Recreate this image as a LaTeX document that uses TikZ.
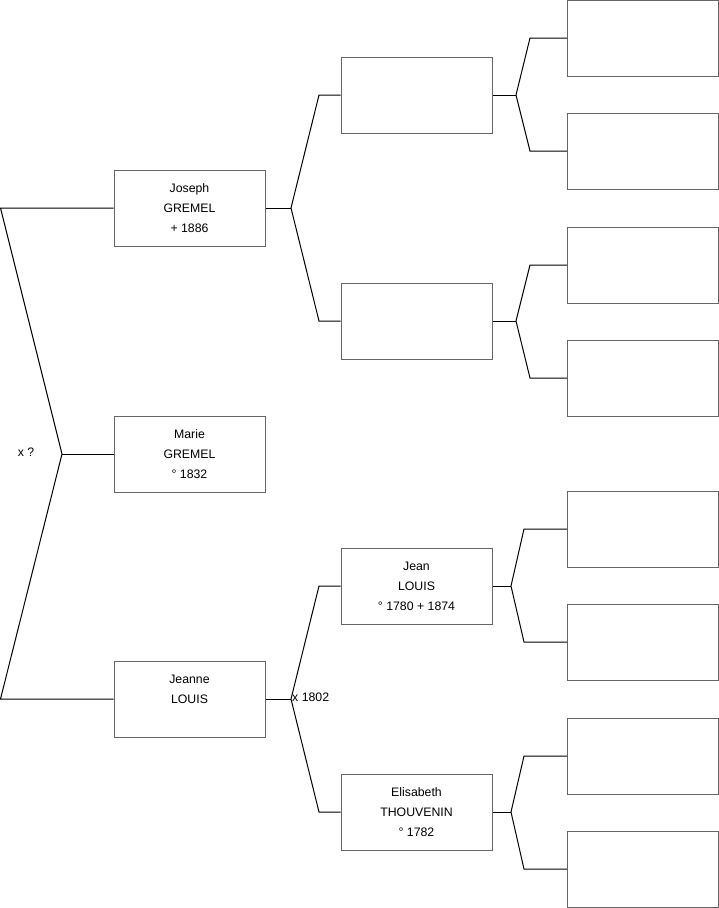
\documentclass[tikz,border=0pt]{standalone}
\usepackage{fontspec}
\setmainfont{Liberation Sans}
\begin{document}
\begin{tikzpicture}[x=1pt,y=-1pt,
  person/.style={draw=black!60,line width=1pt,rectangle,minimum width=151pt,minimum height=76pt,inner sep=0pt,align=center,font=\fontsize{12.3}{20}\selectfont,text depth=0pt},
  link/.style={draw=black,line width=1pt},
  lbl/.style={font=\fontsize{12.3}{14}\selectfont,inner sep=0pt}]
\useasboundingbox (0,0) rectangle (719,908);
% generation 1
\node[person] (jos) at (189.5,208) {Joseph\\GREMEL\\+ 1886};
\node[person] (mar) at (189.5,454) {Marie\\GREMEL\\° 1832};
\node[person] (jea) at (189.5,699) {Jeanne\\LOUIS\\\strut};
% generation 2
\node[person] (ga) at (416.5,95) {};
\node[person] (gb) at (416.5,321) {};
\node[person] (gc) at (416.5,586) {Jean\\LOUIS\\° 1780 + 1874};
\node[person] (gd) at (416.5,812) {Elisabeth\\THOUVENIN\\° 1782};
% generation 3
\node[person] (ha) at (643,38) {};
\node[person] (hb) at (643,151) {};
\node[person] (hc) at (643,265) {};
\node[person] (hd) at (643,378) {};
\node[person] (he) at (643,529) {};
\node[person] (hf) at (643,642) {};
\node[person] (hg) at (643,756) {};
\node[person] (hh) at (643,869) {};
% left bracket
\coordinate (l1) at (0.5,208);
\coordinate (l2) at (62,454);
\coordinate (l3) at (0.5,699);
\draw[link] (jos.west) -- (l1) -- (l2) -- (l3) -- (jea.west);
\draw[link] (l2) -- (mar.west);
\node[lbl] (xq) at (26,452) {x ?};
% Joseph fan
\coordinate (j0) at (291,208);
\coordinate (j1) at (319,95);
\coordinate (j2) at (319,321);
\draw[link] (jos.east) -- (j0);
\draw[link] (j0) -- (j1) -- (ga.west);
\draw[link] (j0) -- (j2) -- (gb.west);
% Jeanne fan
\coordinate (k0) at (291,699);
\coordinate (k1) at (319,586);
\coordinate (k2) at (319,812);
\draw[link] (jea.east) -- (k0);
\draw[link] (k0) -- (k1) -- (gc.west);
\draw[link] (k0) -- (k2) -- (gd.west);
\node[lbl,anchor=west] (xm) at (292,697) {x 1802};
% gen 2 fans
\coordinate (a0) at (516,95);
\coordinate (a1) at (530,38);
\coordinate (a2) at (530,151);
\draw[link] (ga.east) -- (a0);
\draw[link] (a0) -- (a1) -- (ha.west);
\draw[link] (a0) -- (a2) -- (hb.west);
\coordinate (b0) at (516,321);
\coordinate (b1) at (530,265);
\coordinate (b2) at (530,378);
\draw[link] (gb.east) -- (b0);
\draw[link] (b0) -- (b1) -- (hc.west);
\draw[link] (b0) -- (b2) -- (hd.west);
\coordinate (c0) at (511,586);
\coordinate (c1) at (524,529);
\coordinate (c2) at (524,642);
\draw[link] (gc.east) -- (c0);
\draw[link] (c0) -- (c1) -- (he.west);
\draw[link] (c0) -- (c2) -- (hf.west);
\coordinate (d0) at (511,812);
\coordinate (d1) at (524,756);
\coordinate (d2) at (524,869);
\draw[link] (gd.east) -- (d0);
\draw[link] (d0) -- (d1) -- (hg.west);
\draw[link] (d0) -- (d2) -- (hh.west);
\end{tikzpicture}
\end{document}
